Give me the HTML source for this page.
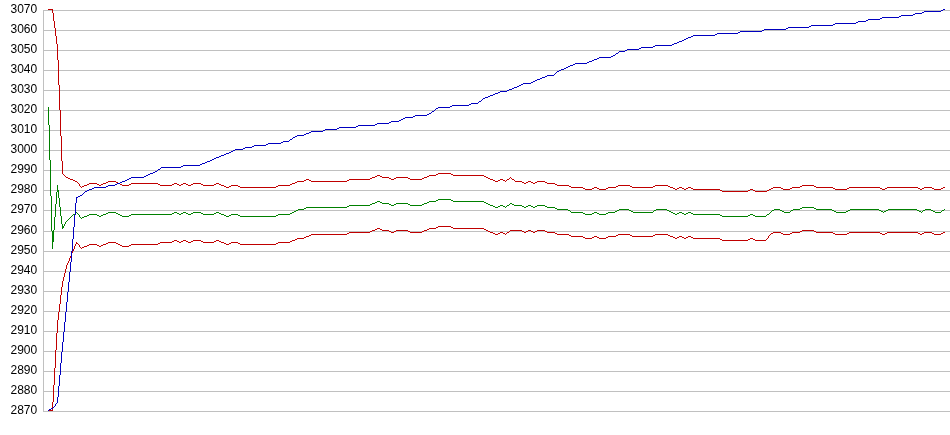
<!DOCTYPE html>
<html><head><meta charset="utf-8"><title>chart</title>
<style>
html,body{margin:0;padding:0;background:#fff;}
svg{display:block;}
text{font-family:"Liberation Sans",sans-serif;font-size:12px;fill:#000;}
</style></head><body>
<svg width="950" height="435" viewBox="0 0 950 435">
<rect width="950" height="435" fill="#fff"/>
<g shape-rendering="crispEdges" stroke="#c0c0c0" stroke-width="1" fill="none">
<line x1="43" y1="10.5" x2="950" y2="10.5"/>
<line x1="43" y1="30.5" x2="950" y2="30.5"/>
<line x1="43" y1="50.5" x2="950" y2="50.5"/>
<line x1="43" y1="70.5" x2="950" y2="70.5"/>
<line x1="43" y1="90.5" x2="950" y2="90.5"/>
<line x1="43" y1="110.5" x2="950" y2="110.5"/>
<line x1="43" y1="130.5" x2="950" y2="130.5"/>
<line x1="43" y1="150.5" x2="950" y2="150.5"/>
<line x1="43" y1="170.5" x2="950" y2="170.5"/>
<line x1="43" y1="190.5" x2="950" y2="190.5"/>
<line x1="43" y1="210.5" x2="950" y2="210.5"/>
<line x1="43" y1="231.5" x2="950" y2="231.5"/>
<line x1="43" y1="251.5" x2="950" y2="251.5"/>
<line x1="43" y1="271.5" x2="950" y2="271.5"/>
<line x1="43" y1="291.5" x2="950" y2="291.5"/>
<line x1="43" y1="311.5" x2="950" y2="311.5"/>
<line x1="43" y1="331.5" x2="950" y2="331.5"/>
<line x1="43" y1="351.5" x2="950" y2="351.5"/>
<line x1="43" y1="371.5" x2="950" y2="371.5"/>
<line x1="43" y1="391.5" x2="950" y2="391.5"/>
<line x1="43" y1="411.5" x2="950" y2="411.5"/>
<line x1="43.5" y1="10" x2="43.5" y2="412"/>
</g>
<g text-anchor="end" style="filter:grayscale(1)">
<text x="37.2" y="13">3070</text>
<text x="37.2" y="33">3060</text>
<text x="37.2" y="53">3050</text>
<text x="37.2" y="73">3040</text>
<text x="37.2" y="93">3030</text>
<text x="37.2" y="113">3020</text>
<text x="37.2" y="133">3010</text>
<text x="37.2" y="153">3000</text>
<text x="37.2" y="173">2990</text>
<text x="37.2" y="193">2980</text>
<text x="37.2" y="213">2970</text>
<text x="37.2" y="234">2960</text>
<text x="37.2" y="254">2950</text>
<text x="37.2" y="274">2940</text>
<text x="37.2" y="294">2930</text>
<text x="37.2" y="314">2920</text>
<text x="37.2" y="334">2910</text>
<text x="37.2" y="354">2900</text>
<text x="37.2" y="374">2890</text>
<text x="37.2" y="394">2880</text>
<text x="37.2" y="414">2870</text>
</g>
<g shape-rendering="crispEdges" stroke="none">
<path fill="#c00000" d="M48 9h5v1h-5zM52 10h1v3h-1zM53 13h1v8h-1zM54 21h1v7h-1zM55 28h1v8h-1zM56 36h1v8h-1zM57 44h1v16h-1zM58 60h1v25h-1zM59 85h1v25h-1zM60 110h1v26h-1zM61 136h1v25h-1zM62 161h1v13h-1zM63 174h1v1h-1zM64 175h1v1h-1zM65 176h1v1h-1zM66 177h2v1h-2zM68 178h2v1h-2zM70 179h3v1h-3zM73 180h2v1h-2zM75 181h2v1h-2zM77 182h1v1h-1zM78 183h1v1h-1zM79 184h1v2h-1zM80 186h1v1h-1zM81 187h1v1h-1zM82 186h2v1h-2zM84 185h3v1h-3zM87 184h2v1h-2zM89 183h8v1h-8zM97 184h2v1h-2zM99 185h2v1h-2zM101 184h2v1h-2zM103 183h3v1h-3zM106 182h2v1h-2zM108 181h8v1h-8zM116 182h2v1h-2zM118 183h2v1h-2zM120 184h2v1h-2zM122 185h7v1h-7zM129 184h2v1h-2zM131 183h27v1h-27zM158 184h2v1h-2zM160 185h12v1h-12zM172 184h2v1h-2zM174 183h3v1h-3zM177 184h2v1h-2zM179 185h2v1h-2zM181 184h2v1h-2zM183 183h3v1h-3zM186 184h2v1h-2zM188 185h3v1h-3zM191 184h2v1h-2zM193 183h8v1h-8zM201 184h2v1h-2zM203 185h11v1h-11zM214 184h2v1h-2zM216 183h3v1h-3zM219 184h2v1h-2zM221 185h3v1h-3zM224 186h2v1h-2zM226 187h3v1h-3zM229 186h2v1h-2zM231 185h7v1h-7zM238 186h2v1h-2zM240 187h36v1h-36zM276 186h2v1h-2zM278 185h12v1h-12zM290 184h2v1h-2zM292 183h3v1h-3zM295 182h2v1h-2zM297 181h7v1h-7zM304 180h2v1h-2zM306 179h3v1h-3zM309 180h2v1h-2zM311 181h36v1h-36zM347 180h2v1h-2zM349 179h21v1h-21zM370 178h2v1h-2zM372 177h3v1h-3zM375 176h2v1h-2zM377 175h3v1h-3zM380 176h2v1h-2zM382 177h7v1h-7zM389 178h2v1h-2zM391 179h3v1h-3zM394 178h2v1h-2zM396 177h12v1h-12zM408 178h2v1h-2zM410 179h12v1h-12zM422 178h2v1h-2zM424 177h3v1h-3zM427 176h2v1h-2zM429 175h7v1h-7zM436 174h2v1h-2zM438 173h13v1h-13zM451 174h2v1h-2zM453 175h31v1h-31zM484 176h2v1h-2zM486 177h2v1h-2zM488 178h2v1h-2zM490 179h3v1h-3zM493 180h2v1h-2zM495 181h3v1h-3zM498 180h2v1h-2zM500 179h3v1h-3zM503 180h2v1h-2zM505 181h1v1h-1zM506 180h1v1h-1zM507 179h2v1h-2zM509 178h1v1h-1zM510 177h1v1h-1zM511 178h1v1h-1zM512 179h2v1h-2zM514 180h1v1h-1zM515 181h7v1h-7zM522 182h2v1h-2zM524 183h2v1h-2zM526 182h2v1h-2zM528 181h3v1h-3zM531 182h2v1h-2zM533 183h2v1h-2zM535 182h2v1h-2zM537 181h8v1h-8zM545 182h2v1h-2zM547 183h8v1h-8zM555 184h2v1h-2zM557 185h12v1h-12zM569 186h2v1h-2zM571 187h12v1h-12zM583 188h2v1h-2zM585 189h7v1h-7zM592 188h2v1h-2zM594 187h3v1h-3zM597 188h2v1h-2zM599 189h7v1h-7zM606 188h2v1h-2zM608 187h8v1h-8zM616 186h2v1h-2zM618 185h12v1h-12zM630 186h2v1h-2zM632 187h21v1h-21zM653 186h2v1h-2zM655 185h13v1h-13zM668 186h2v1h-2zM670 187h3v1h-3zM673 188h2v1h-2zM675 189h2v1h-2zM677 188h2v1h-2zM679 187h3v1h-3zM682 188h2v1h-2zM684 189h2v1h-2zM686 188h2v1h-2zM688 187h3v1h-3zM691 188h2v1h-2zM693 189h27v1h-27zM720 190h2v1h-2zM722 191h26v1h-26zM748 190h2v1h-2zM750 189h3v1h-3zM753 190h2v1h-2zM755 191h12v1h-12zM767 190h2v1h-2zM769 189h2v1h-2zM771 188h2v1h-2zM773 187h8v1h-8zM781 188h2v1h-2zM783 189h7v1h-7zM790 188h2v1h-2zM792 187h8v1h-8zM800 186h2v1h-2zM802 185h12v1h-12zM814 186h2v1h-2zM816 187h17v1h-17zM833 188h2v1h-2zM835 189h12v1h-12zM847 188h2v1h-2zM849 187h31v1h-31zM880 188h2v1h-2zM882 189h3v1h-3zM885 188h2v1h-2zM887 187h31v1h-31zM918 188h2v1h-2zM920 189h2v1h-2zM922 188h2v1h-2zM924 187h8v1h-8zM932 188h2v1h-2zM934 189h7v1h-7zM941 188h2v1h-2zM943 187h2v1h-2z"/>
<path fill="#c00000" d="M48 410h5v1h-5zM52 402h1v8h-1zM53 385h1v17h-1zM54 368h1v17h-1zM55 350h1v18h-1zM56 333h1v17h-1zM57 320h1v13h-1zM58 312h1v8h-1zM59 304h1v8h-1zM60 295h1v9h-1zM61 287h1v8h-1zM62 281h1v6h-1zM63 277h1v4h-1zM64 273h1v4h-1zM65 269h1v4h-1zM66 265h1v4h-1zM67 263h1v2h-1zM68 261h1v2h-1zM69 258h1v3h-1zM70 256h1v2h-1zM71 253h1v3h-1zM72 251h1v2h-1zM73 249h1v2h-1zM74 246h1v3h-1zM75 244h1v2h-1zM76 242h1v1h-1zM76 243h2v1h-2zM78 244h1v1h-1zM79 245h1v2h-1zM80 247h1v1h-1zM81 248h1v1h-1zM82 247h2v1h-2zM84 246h3v1h-3zM87 245h2v1h-2zM89 244h8v1h-8zM97 245h2v1h-2zM99 246h2v1h-2zM101 245h2v1h-2zM103 244h3v1h-3zM106 243h2v1h-2zM108 242h8v1h-8zM116 243h2v1h-2zM118 244h2v1h-2zM120 245h2v1h-2zM122 246h7v1h-7zM129 245h2v1h-2zM131 244h27v1h-27zM158 243h2v1h-2zM160 242h12v1h-12zM172 241h2v1h-2zM174 240h3v1h-3zM177 241h2v1h-2zM179 242h2v1h-2zM181 241h2v1h-2zM183 240h3v1h-3zM186 241h2v1h-2zM188 242h3v1h-3zM191 241h2v1h-2zM193 240h8v1h-8zM201 241h2v1h-2zM203 242h11v1h-11zM214 241h2v1h-2zM216 240h3v1h-3zM219 241h2v1h-2zM221 242h3v1h-3zM224 243h2v1h-2zM226 244h3v1h-3zM229 243h2v1h-2zM231 242h7v1h-7zM238 243h2v1h-2zM240 244h36v1h-36zM276 243h2v1h-2zM278 242h12v1h-12zM290 241h2v1h-2zM292 240h3v1h-3zM295 239h2v1h-2zM297 238h7v1h-7zM304 237h2v1h-2zM306 236h3v1h-3zM309 235h2v1h-2zM311 234h36v1h-36zM347 233h2v1h-2zM349 232h21v1h-21zM370 231h2v1h-2zM372 230h3v1h-3zM375 229h2v1h-2zM377 228h3v1h-3zM380 229h2v1h-2zM382 230h7v1h-7zM389 231h2v1h-2zM391 232h3v1h-3zM394 231h2v1h-2zM396 230h12v1h-12zM408 231h2v1h-2zM410 232h12v1h-12zM422 231h2v1h-2zM424 230h3v1h-3zM427 229h2v1h-2zM429 228h7v1h-7zM436 227h2v1h-2zM438 226h13v1h-13zM451 227h2v1h-2zM453 228h31v1h-31zM484 229h2v1h-2zM486 230h2v1h-2zM488 231h2v1h-2zM490 232h3v1h-3zM493 233h2v1h-2zM495 234h3v1h-3zM498 233h2v1h-2zM500 232h3v1h-3zM503 233h2v1h-2zM505 234h1v1h-1zM506 233h1v1h-1zM507 232h2v1h-2zM509 231h1v1h-1zM510 230h12v1h-12zM522 231h2v1h-2zM524 232h2v1h-2zM526 231h2v1h-2zM528 230h3v1h-3zM531 231h2v1h-2zM533 232h2v1h-2zM535 231h2v1h-2zM537 230h8v1h-8zM545 231h2v1h-2zM547 232h8v1h-8zM555 233h2v1h-2zM557 234h12v1h-12zM569 235h2v1h-2zM571 236h12v1h-12zM583 237h2v1h-2zM585 238h7v1h-7zM592 237h2v1h-2zM594 236h3v1h-3zM597 237h2v1h-2zM599 238h7v1h-7zM606 237h2v1h-2zM608 236h8v1h-8zM616 235h2v1h-2zM618 234h12v1h-12zM630 235h2v1h-2zM632 236h21v1h-21zM653 235h2v1h-2zM655 234h13v1h-13zM668 235h2v1h-2zM670 236h3v1h-3zM673 237h2v1h-2zM675 238h2v1h-2zM677 237h2v1h-2zM679 236h3v1h-3zM682 237h2v1h-2zM684 238h2v1h-2zM686 237h2v1h-2zM688 236h3v1h-3zM691 237h2v1h-2zM693 238h27v1h-27zM720 239h2v1h-2zM722 240h26v1h-26zM748 239h2v1h-2zM750 238h3v1h-3zM753 239h2v1h-2zM755 240h11v1h-11zM766 239h1v1h-1zM767 238h1v1h-1zM768 236h1v2h-1zM769 235h1v1h-1zM770 234h1v1h-1zM771 233h2v1h-2zM773 232h8v1h-8zM781 233h2v1h-2zM783 234h7v1h-7zM790 233h2v1h-2zM792 232h8v1h-8zM800 231h2v1h-2zM802 230h12v1h-12zM814 231h2v1h-2zM816 232h17v1h-17zM833 233h2v1h-2zM835 234h12v1h-12zM847 233h2v1h-2zM849 232h31v1h-31zM880 233h2v1h-2zM882 234h3v1h-3zM885 233h2v1h-2zM887 232h31v1h-31zM918 233h2v1h-2zM920 234h2v1h-2zM922 233h2v1h-2zM924 232h8v1h-8zM932 233h2v1h-2zM934 234h7v1h-7zM941 233h2v1h-2zM943 232h2v1h-2z"/>
<path fill="#008000" d="M48 107h1v18h-1zM49 125h1v35h-1zM50 160h1v36h-1zM51 196h1v35h-1zM52 231h2v1h-2zM52 232h2v1h-2zM52 233h2v1h-2zM52 234h2v1h-2zM52 235h2v1h-2zM52 236h2v1h-2zM52 237h2v1h-2zM52 238h2v1h-2zM52 239h2v1h-2zM52 240h2v1h-2zM52 241h2v1h-2zM52 242h1v7h-1zM53 230h1v1h-1zM54 217h1v13h-1zM55 204h1v13h-1zM56 192h1v12h-1zM57 185h1v5h-1zM57 190h2v1h-2zM57 191h2v1h-2zM58 192h1v6h-1zM59 198h1v9h-1zM60 207h1v9h-1zM61 216h1v8h-1zM62 224h1v2h-1zM62 226h2v1h-2zM62 227h2v1h-2zM62 228h1v1h-1zM64 224h1v2h-1zM65 222h1v2h-1zM66 221h1v1h-1zM67 220h1v1h-1zM68 219h1v1h-1zM69 218h1v1h-1zM70 217h1v1h-1zM71 216h1v1h-1zM72 215h1v1h-1zM73 214h2v1h-2zM75 213h1v1h-1zM76 212h1v1h-1zM77 213h1v1h-1zM78 214h1v1h-1zM79 215h1v2h-1zM80 217h1v1h-1zM81 218h1v1h-1zM82 217h2v1h-2zM84 216h3v1h-3zM87 215h2v1h-2zM89 214h8v1h-8zM97 215h2v1h-2zM99 216h2v1h-2zM101 215h2v1h-2zM103 214h3v1h-3zM106 213h2v1h-2zM108 212h8v1h-8zM116 213h2v1h-2zM118 214h2v1h-2zM120 215h2v1h-2zM122 216h7v1h-7zM129 215h2v1h-2zM131 214h41v1h-41zM172 213h2v1h-2zM174 212h3v1h-3zM177 213h2v1h-2zM179 214h2v1h-2zM181 213h2v1h-2zM183 212h3v1h-3zM186 213h2v1h-2zM188 214h3v1h-3zM191 213h2v1h-2zM193 212h8v1h-8zM201 213h2v1h-2zM203 214h11v1h-11zM214 213h2v1h-2zM216 212h3v1h-3zM219 213h2v1h-2zM221 214h3v1h-3zM224 215h2v1h-2zM226 216h3v1h-3zM229 215h2v1h-2zM231 214h7v1h-7zM238 215h2v1h-2zM240 216h36v1h-36zM276 215h2v1h-2zM278 214h12v1h-12zM290 213h2v1h-2zM292 212h2v1h-2zM294 211h2v1h-2zM296 210h2v1h-2zM298 209h6v1h-6zM304 208h2v1h-2zM306 207h41v1h-41zM347 206h2v1h-2zM349 205h21v1h-21zM370 204h2v1h-2zM372 203h3v1h-3zM375 202h2v1h-2zM377 201h3v1h-3zM380 202h2v1h-2zM382 203h7v1h-7zM389 204h2v1h-2zM391 205h3v1h-3zM394 204h2v1h-2zM396 203h12v1h-12zM408 204h2v1h-2zM410 205h12v1h-12zM422 204h2v1h-2zM424 203h3v1h-3zM427 202h2v1h-2zM429 201h7v1h-7zM436 200h2v1h-2zM438 199h13v1h-13zM451 200h2v1h-2zM453 201h31v1h-31zM484 202h2v1h-2zM486 203h2v1h-2zM488 204h2v1h-2zM490 205h3v1h-3zM493 206h2v1h-2zM495 207h3v1h-3zM498 206h2v1h-2zM500 205h3v1h-3zM503 206h2v1h-2zM505 207h1v1h-1zM506 206h1v1h-1zM507 205h2v1h-2zM509 204h1v1h-1zM510 203h2v1h-2zM512 204h2v1h-2zM514 205h8v1h-8zM522 206h2v1h-2zM524 207h2v1h-2zM526 206h2v1h-2zM528 205h3v1h-3zM531 206h2v1h-2zM533 207h2v1h-2zM535 206h2v1h-2zM537 205h8v1h-8zM545 206h2v1h-2zM547 207h8v1h-8zM555 208h2v1h-2zM557 209h11v1h-11zM568 210h2v1h-2zM570 211h1v1h-1zM571 212h12v1h-12zM583 213h2v1h-2zM585 214h7v1h-7zM592 213h2v1h-2zM594 212h3v1h-3zM597 213h2v1h-2zM599 214h7v1h-7zM606 213h2v1h-2zM608 212h7v1h-7zM615 211h2v1h-2zM617 210h2v1h-2zM619 209h10v1h-10zM629 210h2v1h-2zM631 211h2v1h-2zM633 212h20v1h-20zM653 211h1v1h-1zM654 210h2v1h-2zM656 209h11v1h-11zM667 210h2v1h-2zM669 211h2v1h-2zM671 212h2v1h-2zM673 213h2v1h-2zM675 214h2v1h-2zM677 213h2v1h-2zM679 212h3v1h-3zM682 213h2v1h-2zM684 214h2v1h-2zM686 213h2v1h-2zM688 212h3v1h-3zM691 213h2v1h-2zM693 214h27v1h-27zM720 215h2v1h-2zM722 216h26v1h-26zM748 215h2v1h-2zM750 214h3v1h-3zM753 215h2v1h-2zM755 216h11v1h-11zM766 215h1v1h-1zM767 214h2v1h-2zM769 213h1v1h-1zM770 212h1v1h-1zM771 211h1v1h-1zM772 210h2v1h-2zM774 209h6v1h-6zM780 210h2v1h-2zM782 211h2v1h-2zM784 212h6v1h-6zM790 211h1v1h-1zM791 210h2v1h-2zM793 209h7v1h-7zM800 208h2v1h-2zM802 207h12v1h-12zM814 208h2v1h-2zM816 209h16v1h-16zM832 210h2v1h-2zM834 211h2v1h-2zM836 212h10v1h-10zM846 211h2v1h-2zM848 210h2v1h-2zM850 209h29v1h-29zM879 210h2v1h-2zM881 211h2v1h-2zM883 212h1v1h-1zM884 211h2v1h-2zM886 210h2v1h-2zM888 209h29v1h-29zM917 210h2v1h-2zM919 211h2v1h-2zM921 212h1v1h-1zM922 211h1v1h-1zM923 210h2v1h-2zM925 209h6v1h-6zM931 210h2v1h-2zM933 211h2v1h-2zM935 212h6v1h-6zM941 211h1v1h-1zM942 210h2v1h-2zM944 209h1v1h-1z"/>
<path fill="#0000c0" d="M48 410h1v1h-1zM49 409h2v1h-2zM51 408h2v1h-2zM53 407h1v1h-1zM54 406h1v1h-1zM55 404h1v2h-1zM56 403h1v1h-1zM57 397h1v6h-1zM58 386h1v11h-1zM59 375h1v11h-1zM60 363h1v12h-1zM61 352h1v11h-1zM62 342h1v10h-1zM63 332h1v10h-1zM64 322h1v10h-1zM65 312h1v10h-1zM66 302h1v10h-1zM67 292h1v10h-1zM68 282h1v10h-1zM69 272h1v10h-1zM70 262h1v10h-1zM71 251h1v11h-1zM72 239h1v12h-1zM73 227h1v12h-1zM74 215h1v12h-1zM75 203h1v12h-1zM76 197h2v1h-2zM76 198h1v5h-1zM78 196h2v1h-2zM80 195h2v1h-2zM82 194h1v1h-1zM83 193h1v1h-1zM84 192h1v1h-1zM85 191h2v1h-2zM87 190h2v1h-2zM89 189h3v1h-3zM92 188h2v1h-2zM94 187h12v1h-12zM106 186h2v1h-2zM108 185h7v1h-7zM115 184h2v1h-2zM117 183h3v1h-3zM120 182h2v1h-2zM122 181h3v1h-3zM125 180h2v1h-2zM127 179h2v1h-2zM129 178h2v1h-2zM131 177h13v1h-13zM144 176h2v1h-2zM146 175h2v1h-2zM148 174h2v1h-2zM150 173h3v1h-3zM153 172h2v1h-2zM155 171h2v1h-2zM157 170h1v1h-1zM158 169h2v1h-2zM160 168h1v1h-1zM161 167h20v1h-20zM181 166h2v1h-2zM183 165h17v1h-17zM200 164h2v1h-2zM202 163h3v1h-3zM205 162h2v1h-2zM207 161h3v1h-3zM210 160h2v1h-2zM212 159h2v1h-2zM214 158h2v1h-2zM216 157h3v1h-3zM219 156h2v1h-2zM221 155h3v1h-3zM224 154h2v1h-2zM226 153h3v1h-3zM229 152h2v1h-2zM231 151h2v1h-2zM233 150h2v1h-2zM235 149h8v1h-8zM243 148h2v1h-2zM245 147h7v1h-7zM252 146h2v1h-2zM254 145h12v1h-12zM266 144h2v1h-2zM268 143h13v1h-13zM281 142h2v1h-2zM283 141h6v1h-6zM289 140h1v1h-1zM290 139h2v1h-2zM292 138h1v1h-1zM293 137h2v1h-2zM295 136h2v1h-2zM297 135h7v1h-7zM304 134h2v1h-2zM306 133h3v1h-3zM309 132h2v1h-2zM311 131h12v1h-12zM323 130h2v1h-2zM325 129h12v1h-12zM337 128h2v1h-2zM339 127h17v1h-17zM356 126h2v1h-2zM358 125h17v1h-17zM375 124h2v1h-2zM377 123h12v1h-12zM389 122h2v1h-2zM391 121h8v1h-8zM399 120h2v1h-2zM401 119h2v1h-2zM403 118h2v1h-2zM405 117h8v1h-8zM413 116h2v1h-2zM415 115h12v1h-12zM427 114h2v1h-2zM429 113h2v1h-2zM431 112h1v1h-1zM432 111h2v1h-2zM434 110h1v1h-1zM435 109h1v1h-1zM436 108h2v1h-2zM438 107h12v1h-12zM450 106h2v1h-2zM452 105h17v1h-17zM469 104h2v1h-2zM471 103h7v1h-7zM478 102h1v1h-1zM479 101h2v1h-2zM481 100h1v1h-1zM482 99h1v1h-1zM483 98h2v1h-2zM485 97h3v1h-3zM488 96h2v1h-2zM490 95h3v1h-3zM493 94h2v1h-2zM495 93h3v1h-3zM498 92h2v1h-2zM500 91h7v1h-7zM507 90h2v1h-2zM509 89h3v1h-3zM512 88h2v1h-2zM514 87h3v1h-3zM517 86h2v1h-2zM519 85h2v1h-2zM521 84h2v1h-2zM523 83h8v1h-8zM531 82h2v1h-2zM533 81h2v1h-2zM535 80h2v1h-2zM537 79h3v1h-3zM540 78h2v1h-2zM542 77h3v1h-3zM545 76h2v1h-2zM547 75h7v1h-7zM554 74h1v1h-1zM555 73h1v1h-1zM556 72h1v1h-1zM557 71h2v1h-2zM559 70h2v1h-2zM561 69h3v1h-3zM564 68h2v1h-2zM566 67h2v1h-2zM568 66h2v1h-2zM570 65h3v1h-3zM573 64h2v1h-2zM575 63h12v1h-12zM587 62h2v1h-2zM589 61h3v1h-3zM592 60h2v1h-2zM594 59h3v1h-3zM597 58h2v1h-2zM599 57h12v1h-12zM611 56h2v1h-2zM613 55h2v1h-2zM615 54h1v1h-1zM616 53h2v1h-2zM618 52h1v1h-1zM619 51h6v1h-6zM625 50h2v1h-2zM627 49h12v1h-12zM639 48h2v1h-2zM641 47h12v1h-12zM653 46h2v1h-2zM655 45h17v1h-17zM672 44h2v1h-2zM674 43h3v1h-3zM677 42h2v1h-2zM679 41h3v1h-3zM682 40h2v1h-2zM684 39h2v1h-2zM686 38h2v1h-2zM688 37h3v1h-3zM691 36h2v1h-2zM693 35h22v1h-22zM715 34h2v1h-2zM717 33h21v1h-21zM738 32h2v1h-2zM740 31h22v1h-22zM762 30h2v1h-2zM764 29h22v1h-22zM786 28h2v1h-2zM788 27h21v1h-21zM809 26h2v1h-2zM811 25h22v1h-22zM833 24h2v1h-2zM835 23h21v1h-21zM856 22h2v1h-2zM858 21h8v1h-8zM866 20h2v1h-2zM868 19h12v1h-12zM880 18h2v1h-2zM882 17h17v1h-17zM899 16h2v1h-2zM901 15h12v1h-12zM913 14h2v1h-2zM915 13h7v1h-7zM922 12h2v1h-2zM924 11h17v1h-17zM941 10h2v1h-2zM943 9h2v1h-2z"/>
</g>
</svg>
</body></html>
